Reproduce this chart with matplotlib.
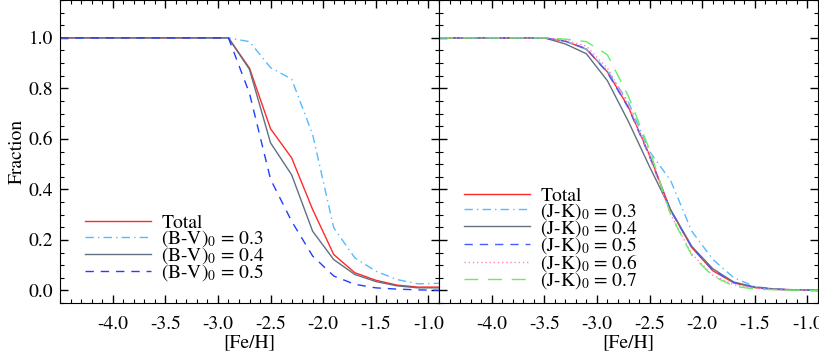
import matplotlib
matplotlib.use("Agg")
import matplotlib.pyplot as plt
from matplotlib.ticker import FixedLocator, MultipleLocator

plt.rcParams["font.family"] = "STIXGeneral"
plt.rcParams["mathtext.fontset"] = "stix"

feh = [-4.5, -4.3, -4.1, -3.9, -3.7, -3.5, -3.3, -3.1, -2.9, -2.7, -2.5,
       -2.3, -2.1, -1.9, -1.7, -1.5, -1.3, -1.1, -0.9]
feh_ticks = [-4.0, -3.5, -3.0, -2.5, -2.0, -1.5, -1.0]

# left panel: (B-V)0 bins
bv_total = [1.0, 1.0, 1.0, 1.0, 1.0, 1.0, 1.0, 1.0, 1.0, 0.88, 0.64,
            0.525, 0.32, 0.142, 0.07, 0.04, 0.021, 0.013, 0.013]
bv_03 = [1.0, 1.0, 1.0, 1.0, 1.0, 1.0, 1.0, 1.0, 1.0, 0.985, 0.882,
         0.837, 0.617, 0.248, 0.129, 0.076, 0.043, 0.026, 0.028]
bv_04 = [1.0, 1.0, 1.0, 1.0, 1.0, 1.0, 1.0, 1.0, 1.0, 0.875, 0.584,
         0.458, 0.234, 0.122, 0.063, 0.035, 0.018, 0.01, 0.01]
bv_05 = [1.0, 1.0, 1.0, 1.0, 1.0, 1.0, 1.0, 1.0, 1.0, 0.78, 0.44,
         0.274, 0.136, 0.057, 0.024, 0.01, 0.005, 0.002, 0.0]

# right panel: (J-K)0 bins
jk_total = [1.0, 1.0, 1.0, 1.0, 1.0, 1.0, 0.987, 0.955, 0.865, 0.725, 0.535,
            0.318, 0.17, 0.078, 0.03, 0.011, 0.004, 0.002, 0.0]
jk_03 = [1.0, 1.0, 1.0, 1.0, 1.0, 1.0, 0.987, 0.955, 0.87, 0.745, 0.55,
         0.435, 0.235, 0.123, 0.05, 0.015, 0.005, 0.002, 0.0]
jk_04 = [1.0, 1.0, 1.0, 1.0, 1.0, 1.0, 0.976, 0.937, 0.83, 0.668, 0.49,
         0.32, 0.175, 0.086, 0.033, 0.013, 0.005, 0.002, 0.0]
jk_05 = [1.0, 1.0, 1.0, 1.0, 1.0, 1.0, 0.987, 0.957, 0.862, 0.722, 0.53,
         0.316, 0.172, 0.08, 0.031, 0.011, 0.004, 0.002, 0.0]
jk_06 = [1.0, 1.0, 1.0, 1.0, 1.0, 1.0, 0.99, 0.967, 0.88, 0.735, 0.53,
         0.3, 0.145, 0.06, 0.022, 0.009, 0.003, 0.001, 0.0]
jk_07 = [1.0, 1.0, 1.0, 1.0, 1.0, 1.0, 0.995, 0.985, 0.933, 0.768, 0.557,
         0.3, 0.14, 0.057, 0.017, 0.005, 0.002, 0.001, 0.0]

RED = "#ff2a2a"
SKY = "#55bbff"
SLATE = "#607080"


def style_axes(ax):
    ax.set_xlim(-4.5, -0.9)
    ax.set_ylim(-0.05, 1.15)
    ax.xaxis.set_major_locator(FixedLocator(feh_ticks))
    ax.xaxis.set_minor_locator(MultipleLocator(0.1))
    ax.yaxis.set_major_locator(MultipleLocator(0.2))
    ax.yaxis.set_minor_locator(MultipleLocator(0.05))
    ax.tick_params(which="both", direction="in", top=True, right=True, labelsize=14)
    ax.tick_params(which="major", length=6, width=1.0)
    ax.tick_params(which="minor", length=3, width=0.8)
    ax.tick_params(axis="x", which="major", pad=9)
    ax.tick_params(axis="y", which="major", pad=5)
    ax.xaxis.set_major_formatter(plt.FuncFormatter(lambda v, p: f"{v:.1f}"))
    ax.set_xlabel("[Fe/H]", fontsize=14, labelpad=1)


fig = plt.figure(figsize=(8.2, 3.51), dpi=100)
ax1 = fig.add_axes([60 / 820, 48 / 351, 379 / 820, 303 / 351])
ax2 = fig.add_axes([439 / 820, 48 / 351, 379 / 820, 303 / 351])

ax1.plot(feh, bv_total, color=RED, lw=1.0, label="Total")
ax1.plot(feh, bv_03, color=SKY, lw=1.0, ls=(0, (6, 3, 1, 3)), label="(B-V)$_0$ = 0.3")
ax1.plot(feh, bv_04, color=SLATE, lw=1.0, label="(B-V)$_0$ = 0.4")
ax1.plot(feh, bv_05, color="#1f3fff", lw=1.0, ls=(0, (6, 5)), label="(B-V)$_0$ = 0.5")

ax2.plot(feh, jk_total, color=RED, lw=1.0, label="Total")
ax2.plot(feh, jk_03, color=SKY, lw=1.0, ls=(0, (6, 3, 1, 3)), label="(J-K)$_0$ = 0.3")
ax2.plot(feh, jk_04, color=SLATE, lw=1.0, label="(J-K)$_0$ = 0.4")
ax2.plot(feh, jk_05, color="#4a5cff", lw=1.0, ls=(0, (6, 5)), label="(J-K)$_0$ = 0.5")
ax2.plot(feh, jk_06, color="#ff88bb", lw=1.0, ls=(0, (1, 2)), label="(J-K)$_0$ = 0.6")
ax2.plot(feh, jk_07, color="#66ee66", lw=1.0, ls=(0, (10, 7)), label="(J-K)$_0$ = 0.7")

legend_y = {ax1: 0.065, ax2: 0.04}
for ax in (ax1, ax2):
    style_axes(ax)
    ax.legend(loc="lower left", bbox_to_anchor=(0.065, legend_y[ax]), frameon=False,
              fontsize=14, handlelength=3.4, handletextpad=0.55,
              labelspacing=-0.2, borderaxespad=0, borderpad=0)

ax1.set_ylabel("Fraction", fontsize=14, labelpad=2)
ax2.tick_params(labelleft=False)

fig.savefig("out.png", dpi=100)
